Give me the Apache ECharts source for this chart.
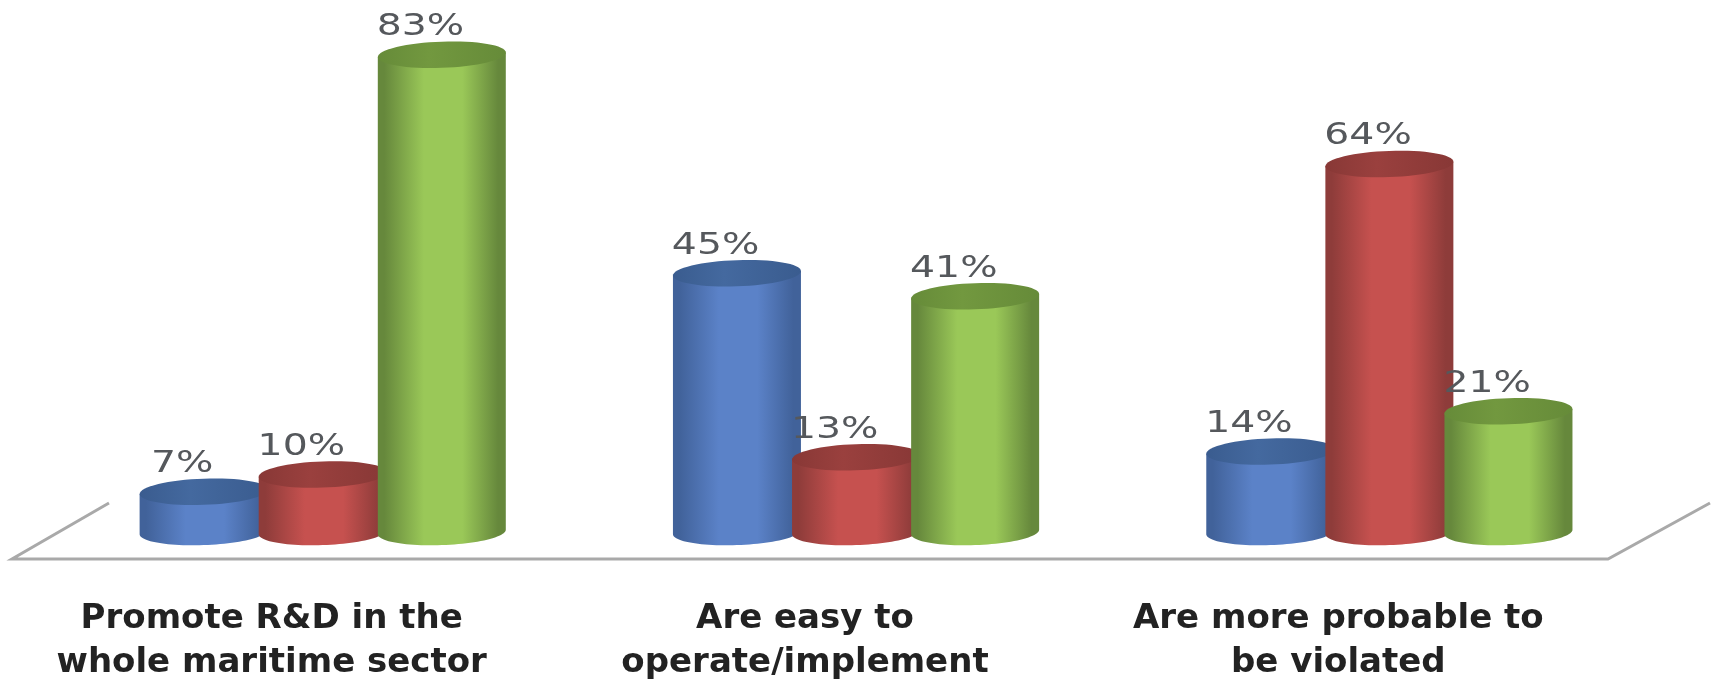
<!DOCTYPE html>
<html>
<head>
<meta charset="utf-8">
<style>html,body{margin:0;padding:0;background:#fff}#c{width:1714px;height:679px}</style>
<script src="https://cdn.jsdelivr.net/npm/echarts@6/dist/echarts.min.js"></script>
</head>
<body>
<div id="c"></div>
<script>
const categories = ['Promote R&D in the\nwhole maritime sector', 'Are easy to\noperate/implement', 'Are more probable to\nbe violated'];
const seriesNames = ['Series 1', 'Series 2', 'Series 3'];
const blueValues = [7, 45, 14];
const redValues = [10, 13, 64];
const greenValues = [83, 41, 21];

const palettes = [
  {edge:'#41629a', mid:'#5b82c8', top:'#44699f', topEdge:'#3a5c8f'},
  {edge:'#8e3c3a', mid:'#c6514f', top:'#9a403e', topEdge:'#883836'},
  {edge:'#66883c', mid:'#9ac858', top:'#72983f', topEdge:'#668b39'}
];
const perspectiveShift = 0.0957, barStep = 0.2233, barWidth = 0.24, labelShift = -0.04, ryRatio = 0.205, tilt = 0.035;

function arc(cx, cy, rx, ry, from, to, n) {
  const pts = [];
  for (let i = 0; i <= n; i++) {
    const t = from + (to - from) * i / n;
    const dx = rx * Math.cos(t);
    pts.push([cx + dx, cy + ry * Math.sin(t) - tilt * dx]);
  }
  return pts;
}

function cylinder(idx) {
  const p = palettes[idx];
  return function (params, api) {
    const cat = api.value(0), val = api.value(1);
    const base = api.coord([cat, 0]), topPt = api.coord([cat, val]);
    const band = api.size([1, 0])[0];
    const cx = base[0] + band * (perspectiveShift + (idx - 1) * barStep);
    const rx = band * barWidth / 2, ry = rx * ryRatio;
    const body = [[cx - rx, topPt[1] + tilt * rx]]
      .concat(arc(cx, base[1], rx, ry, Math.PI, 0, 48))
      .concat([[cx + rx, topPt[1] - tilt * rx]]);
    const grad = new echarts.graphic.LinearGradient(0, 0, 1, 0, [
      {offset:0, color:p.edge}, {offset:0.05, color:p.edge}, {offset:0.36, color:p.mid},
      {offset:0.66, color:p.mid}, {offset:0.94, color:p.edge}, {offset:1, color:p.edge}
    ]);
    const topGrad = new echarts.graphic.LinearGradient(0, 0, 1, 0, [
      {offset:0, color:p.topEdge}, {offset:0.4, color:p.top}, {offset:1, color:p.topEdge}
    ]);
    return {
      type:'group',
      children:[
        {type:'polygon', shape:{points:body}, style:{fill:grad}},
        {type:'polygon', shape:{points:arc(cx, topPt[1], rx, ry, 0, Math.PI * 2, 64)}, style:{fill:topGrad}},
        {type:'text', x:cx + band * labelShift, y:topPt[1] - ry + 1, scaleX:1.27,
          style:{text:val + '%', fill:'#55585c', font:'400 31px "DejaVu Sans"', textAlign:'center', textVerticalAlign:'bottom'}, z2:10}
      ]
    };
  };
}

const allValues = [blueValues, redValues, greenValues];
const chart = echarts.init(document.getElementById('c'), null, {renderer:'canvas'});
chart.setOption({
  animation:false,
  backgroundColor:'#ffffff',
  grid:{left:5, width:1600, top:14.5, height:517.5, containLabel:false, outerBoundsMode:'none'},
  xAxis:{type:'category', data:categories, offset:27,
    axisLine:{show:false}, axisTick:{show:false},
    axisLabel:{margin:38, lineHeight:44, fontFamily:'"DejaVu Sans"', fontWeight:'bold', fontSize:34, color:'#222222', interval:0}},
  yAxis:{type:'value', min:0, max:90, show:false},
  graphic:[{type:'polyline', silent:true, z:0,
    shape:{points:[[109,503],[12,559],[1608,559],[1710,503]]},
    style:{stroke:'#a9a9a9', lineWidth:3, fill:null}}],
  series:allValues.map((vals, idx) => ({
    type:'custom', name:seriesNames[idx], clip:false, z:2 + idx,
    renderItem:cylinder(idx),
    encode:{x:0, y:1},
    data:vals.map((v, i) => [i, v])
  }))
});
</script>
</body>
</html>
